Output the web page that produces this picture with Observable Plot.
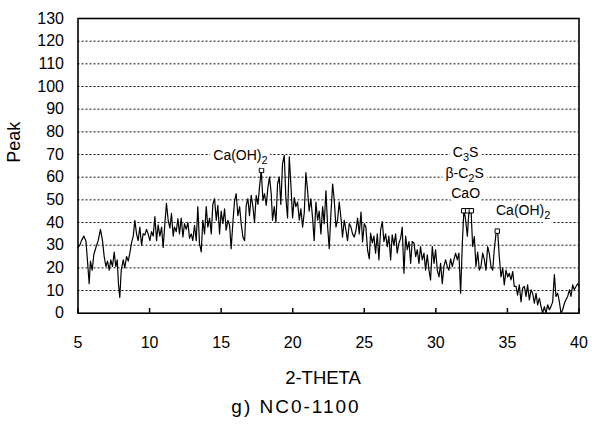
<!DOCTYPE html>
<html><head><meta charset="utf-8">
<script src="https://cdn.jsdelivr.net/npm/d3@7"></script>
<script src="https://cdn.jsdelivr.net/npm/@observablehq/plot@0.6"></script>
<style>
html,body{margin:0;padding:0;background:#fff;}
figure{margin:0;padding:0;}
figcaption{margin:0;padding:0;text-align:center;font-family:"Liberation Sans",Arial,sans-serif;font-size:19px;letter-spacing:2px;line-height:23px;color:#000;}
</style></head><body><div id="chart"></div>
<script>
const twoTheta = [
5.00,5.13,5.24,5.41,5.55,5.64,5.78,5.87,5.99,6.11,6.25,6.41,6.57,6.71,6.83,6.95,7.06,7.18,7.29,7.41,7.53,7.64,7.74,7.83,7.92,8.02,8.16,8.27,8.39,8.51,8.62,8.74,8.86,8.97,9.09,9.20,9.32,9.44,9.55,9.67,9.79,9.90,10.02,10.14,10.25,10.37,10.49,10.60,10.72,10.84,10.95,11.07,11.18,11.30,11.42,11.53,11.65,
11.74,11.86,11.98,12.09,12.21,12.33,12.44,12.56,12.68,12.79,12.91,13.02,13.14,13.26,13.37,13.49,13.61,13.72,13.84,13.96,14.07,14.19,14.31,14.42,14.54,14.66,14.77,14.89,15.00,15.12,15.24,15.35,15.47,15.59,15.70,15.82,15.94,16.05,16.17,16.29,16.40,16.52,16.64,16.75,16.87,16.98,17.10,17.22,17.33,17.45,17.57,17.68,17.80,17.92,18.03,18.15,18.27,18.38,18.50,
18.59,18.71,18.83,18.94,19.06,19.17,19.29,19.41,19.52,19.64,19.76,19.87,19.99,20.11,20.22,20.34,20.46,20.57,20.69,20.81,20.92,21.04,21.15,21.27,21.39,21.50,21.62,21.74,21.85,21.97,22.09,22.20,22.32,22.44,22.55,22.67,22.79,22.90,23.02,23.13,23.25,23.37,23.48,23.60,23.72,23.83,23.95,24.07,24.18,24.30,24.42,24.53,24.65,24.77,24.88,25.00,25.11,25.23,25.35,
25.44,25.56,25.67,25.79,25.91,26.02,26.14,26.26,26.37,26.49,26.61,26.72,26.84,26.95,27.07,27.19,27.30,27.42,27.54,27.65,27.77,27.89,28.00,28.12,28.24,28.35,28.47,28.59,28.70,28.82,28.93,29.05,29.17,29.28,29.40,29.52,29.63,29.75,29.87,29.98,30.10,30.22,30.33,30.45,30.57,30.68,30.80,30.91,31.03,31.15,31.26,31.38,31.50,31.61,31.73,31.85,31.96,32.08,32.20,32.30,32.40,32.47,32.57,
32.69,32.80,32.92,33.04,33.15,33.27,33.39,33.50,33.62,33.73,33.85,33.97,34.08,34.20,34.32,34.43,34.55,34.67,34.78,34.90,35.02,35.13,35.25,35.37,35.48,35.60,35.71,35.83,35.95,36.06,36.18,36.30,36.41,36.53,36.65,36.76,36.88,37.00,37.11,37.23,37.35,37.46,37.58,37.69,37.81,37.93,38.04,38.16,38.28,38.39,38.51,38.63,38.74,38.86,38.98,39.09,39.21,39.33,39.44,39.56,39.67,39.79,39.91,40.00
];
const peak = [
29,30,32,34,32,25,13,23,19,26,29,32,37,32,25,20.6,23,19,23.5,20.6,27,20.6,23.5,12.5,7,19,23.5,20,25,23,26.5,31,34,41,35,32,38,30,35,34.5,37,35,32,36,34,42.6,32,39,34,38,29,39.7,48.5,41,37.5,44,34,
38,36,41.7,35,42,33.6,39.5,37,40,33,35,32,38.8,32,47,30.7,27,41,35,47,38,42,35,48,50.5,41,47.6,35,45,39.5,46,36.6,41,38.8,28.5,40,49.8,52.7,43,47,39.5,33.6,32,47.6,50.5,43,52,47,40,52,48,55.6,63,49.8,52.7,47.6,55.6,60,52.7,
41,47,40,57,60,48,66,69.6,51,42,69,57,42,51,47,49,41,46,38,44.6,62,54,45,50.5,41.7,32,49,41,45,35,47,39.5,54,38,28.5,44,57,50,38,41,49,42,33.6,41,36.6,32,39.5,38,35,33.6,36.6,42,35,44.6,31.4,39.5,38,27.8,24,
35.3,31,34,26.5,35,23.5,36.8,40.4,31.6,35,29.4,34,23.5,34.6,30,35,26.5,31,33,38,17.6,34,28,31.6,22,31.6,31,25,28,22,29.4,23.5,26.5,19,25.7,19,14.7,29.4,22,28,19,16,22,13,21,23.5,20.6,19,24,20.6,23.5,26.5,23.5,26.5,8.8,31,46,41,34,44,44.5,44,29.4,
33.8,20.6,27,19,20.6,26.5,23.5,19,29.4,26.5,20.6,19,28,35,36,25,16,20,12.5,19,16,17.6,14.7,18.4,11.8,11.8,8,12.5,5,11,11.8,7.4,12.5,5.9,10.3,8.8,4.4,8.8,3.7,6.6,2.9,0,2.9,0,3.7,1.5,2.9,5,17,7.4,8.8,5,0,1.5,4.4,5.9,7.4,10.3,7.4,12.5,10.3,11.8,13,12
];
const xTicks = [5, 10, 15, 20, 25, 30, 35, 40];
const yTicks = [0, 10, 20, 30, 40, 50, 60, 70, 80, 90, 100, 110, 120, 130];
const gridLines = [10, 20, 30, 40, 50, 60, 70, 80, 90, 100, 110, 120];
const labelText = ["Ca(OH)\u2082", "C\u2083S", "\u03B2-C\u2082S", "CaO", "Ca(OH)\u2082"];
const labelX = [16.35, 32.08, 32.01, 32.08, 36.1];
const labelY = [69.6, 70.8, 61.5, 52.8, 45.2];
const markerX = [17.82, 31.95, 32.22, 32.48, 34.29];
const markerY = [63, 45.2, 45.2, 45.2, 36.2];
const xTitle = "2-THETA";
const yTitle = "Peak";
const captionText = "g) NC0-1100";

const data = twoTheta.map((x, i) => ({x, y: peak[i]}));
const labels = labelText.map((t, i) => ({t, x: labelX[i], y: labelY[i]}));
const markers = markerX.map((x, i) => ({x, y: markerY[i]}));

const font = "Liberation Sans, Arial, sans-serif";
const chart = Plot.plot({
  width: 592,
  height: 395,
  marginLeft: 77.5,
  marginRight: 13.5,
  marginTop: 18,
  marginBottom: 82.3,
  style: {fontFamily: font, fontSize: "16px", color: "#000", background: "#fff"},
  x: {domain: [5, 40]},
  y: {domain: [0, 130]},
  caption: captionText,
  marks: [
    Plot.ruleY(gridLines, {stroke: "#111", strokeWidth: 1, strokeDasharray: "2,2"}),
    Plot.ruleX(xTicks, {stroke: "#000", strokeWidth: 1.5, insetTop: 290}),
    Plot.line(data, {x: "x", y: "y", stroke: "#000", strokeWidth: 1.2}),
    Plot.dot(markers, {x: "x", y: "y", symbol: "square", r: 2.5, fill: "white", stroke: "#000", strokeWidth: 1}),
    // white knock-out behind the annotation labels (interrupts the grid lines)
    Plot.text(labels, {x: "x", y: "y", text: "t", fontSize: 14, fill: "white", stroke: "white", strokeWidth: 8}),
    Plot.text(labels, {x: "x", y: "y", text: "t", fontSize: 14, fill: "#000"}),
    Plot.frame({stroke: "#000", strokeWidth: 1.6}),
    Plot.axisX(xTicks, {tickSize: 0, tickPadding: 23, fontSize: 16, label: null}),
    Plot.axisY(yTicks, {tickSize: 0, tickPadding: 14, fontSize: 16, label: null}),
    Plot.text([xTitle], {frameAnchor: "bottom", dx: -5.5, dy: 71, fontSize: 18.5, text: d => d, fill: "#000"}),
    Plot.text([yTitle], {frameAnchor: "left", rotate: -90, dx: -64, dy: -3, fontSize: 18, text: d => d, fill: "#000"})
  ]
});

// render chemical subscripts as lowered, smaller digits
const subMap = {"\u2082": "2", "\u2083": "3"};
d3.select(chart).selectAll("text").each(function() {
  const s = this.textContent;
  if (!/[\u2082\u2083]/.test(s) || this.querySelector("tspan")) return;
  const runs = [];
  for (const ch of s) {
    const isSub = ch in subMap;
    const c = isSub ? subMap[ch] : ch;
    if (runs.length && runs[runs.length - 1].sub === isSub) runs[runs.length - 1].t += c;
    else runs.push({t: c, sub: isSub});
  }
  const el = d3.select(this);
  el.text(null);
  let lowered = false;
  for (const r of runs) {
    const ts = el.append("tspan").text(r.t);
    if (r.sub) { ts.attr("dy", "4px").attr("font-size", "11px"); lowered = true; }
    else if (lowered) { ts.attr("dy", "-4px"); lowered = false; }
  }
});

document.getElementById("chart").appendChild(chart);
</script>
</body></html>
